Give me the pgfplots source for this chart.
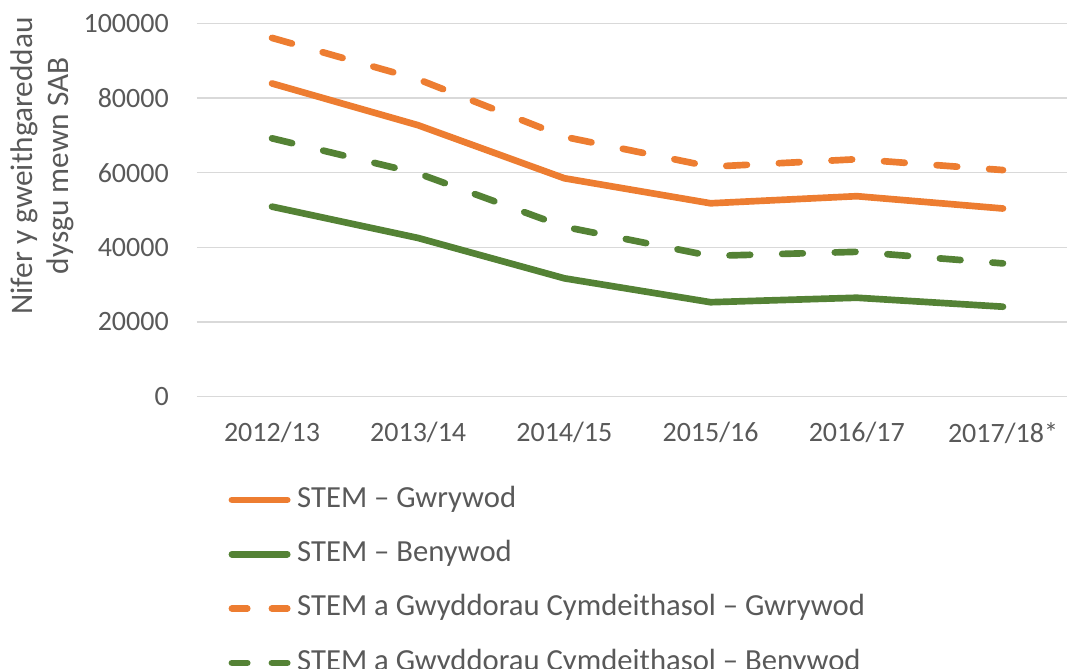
\documentclass[border=0pt]{standalone}
\usepackage{pgfplots}
\pgfplotsset{compat=1.18}
\usepackage{fontspec}
\setmainfont{Carlito}
\definecolor{cOr}{HTML}{ED7D31}
\definecolor{cGr}{HTML}{548235}
\definecolor{cTx}{HTML}{595959}
\definecolor{cGrid}{HTML}{D9D9D9}
\pgfplotsset{
  solidleg/.style={legend image code/.code={\draw[##1] (2.5pt,0pt) -- (44pt,0pt);}},
  dashleg/.style={legend image code/.code={\draw[##1, dash pattern=on 11.5pt off 18.5pt] (2.5pt,0pt) -- (44pt,0pt);}},
}
\begin{document}
\begin{tikzpicture}
\useasboundingbox (-147.75pt,-203.5pt) rectangle (652.5pt,297.5pt);
\begin{axis}[
  at={(0pt,0pt)}, anchor=south west,
  scale only axis, width=652.5pt, height=280pt,
  xmin=-0.513, xmax=5.438, ymin=0, ymax=100000,
  xtick={0,1,2,3,4,5},
  xticklabels={2012/13,2013/14,2014/15,2015/16,2016/17,2017/18*},
  ytick={0,20000,40000,60000,80000,100000},
  yticklabels={0,20000,40000,60000,80000,100000},
  scaled y ticks=false,
  ymajorgrids, grid style={cGrid, line width=1.2pt},
  axis line style={draw=none}, major tick length=0pt,
  ticklabel style={font=\fontsize{21}{25}\selectfont, text=cTx},
  yticklabel style={anchor=east, inner sep=0pt, xshift=-21pt},
  xticklabel style={anchor=north, inner sep=0pt, yshift=-19pt},
  ylabel={Nifer y gweithgareddau\\dysgu mewn SAB},
  ylabel style={at={(axis description cs:-0.178,0.618)}, anchor=center, rotate=0, align=center, font=\fontsize{23.5}{27}\selectfont, text=cTx},
  legend style={at={(axis description cs:0.036,-0.231)}, anchor=north west, draw=none, fill=none,
    font=\fontsize{23}{27}\selectfont, text=cTx, inner sep=0pt, row sep=15.75pt,
    nodes={text height=16pt, text depth=5pt},
    /tikz/every odd column/.append style={column sep=3pt},
    /tikz/every even column/.append style={column sep=0pt}},
  legend cell align=left,
  every axis plot/.append style={line width=5pt, line cap=round, line join=round},
]
\addplot[cOr, solidleg]
  coordinates {(0,83900) (1,72700) (2,58500) (3,51800) (4,53700) (5,50400)};
\addlegendentry{STEM -- Gwrywod}
\addplot[cGr, solidleg]
  coordinates {(0,50900) (1,42500) (2,31700) (3,25300) (4,26500) (5,24100)};
\addlegendentry{STEM -- Benywod}
\addplot[cOr, dash pattern=on 15.5pt off 24pt, dashleg]
  coordinates {(0,96100) (1,85000) (2,69600) (3,61600) (4,63600) (5,60700)};
\addlegendentry{STEM a Gwyddorau Cymdeithasol -- Gwrywod}
\addplot[cGr, dash pattern=on 15.5pt off 24pt, dashleg]
  coordinates {(0,69200) (1,59800) (2,45500) (3,37700) (4,38800) (5,35700)};
\addlegendentry{STEM a Gwyddorau Cymdeithasol -- Benywod}
\end{axis}
\end{tikzpicture}
\end{document}
